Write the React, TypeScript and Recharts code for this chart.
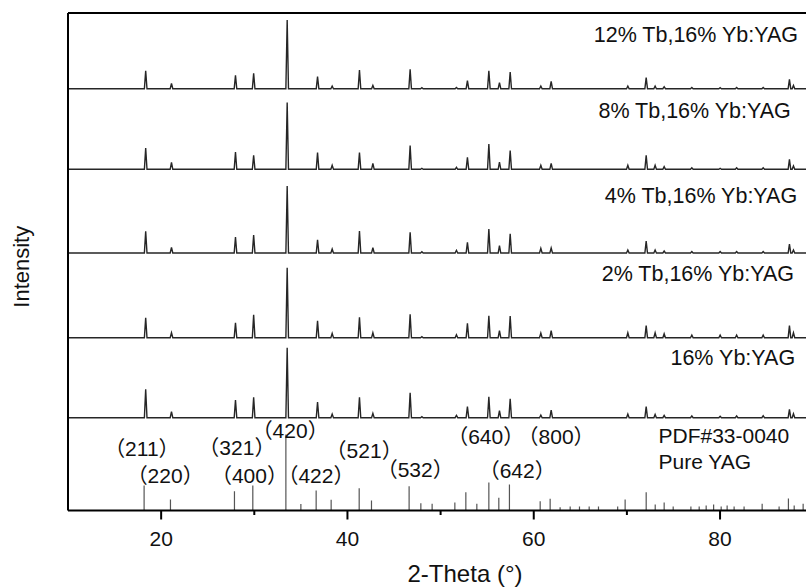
import React from 'react';
import { ComposedChart, Line, XAxis, YAxis, ReferenceDot, ReferenceLine } from 'recharts';

// 2-Theta positions (deg) of the diffraction peaks seen in the sample patterns
const PEAK_POS = [18.34, 21.11, 27.98, 29.93, 33.53, 36.79, 38.36, 41.29, 42.73, 46.73, 47.99, 51.7, 52.88, 55.18, 56.32, 57.47, 60.76, 61.87, 70.1, 72.07, 73.03, 74.0, 76.97, 80.01, 81.78, 84.63, 87.45, 87.88];

// peak heights per sample (same order as PEAK_POS)
const H_12TB = [18, 5.3, 13.3, 15.3, 68.7, 12, 2.7, 18.7, 3.3, 19.3, 1, 1.3, 8, 18, 6, 16.7, 2.7, 7.3, 2.7, 11, 2.7, 2, 1.3, 1, 1.3, 1.3, 9.3, 3.3];
const H_8TB = [21.3, 7, 17.3, 14, 66.7, 16.7, 4, 16.7, 6, 23.7, 1, 2, 12, 25.3, 7.3, 18.7, 4, 6, 4, 14, 4, 2.7, 1.5, 1, 1.5, 1.5, 10, 3.3];
const H_4TB = [21.6, 5.6, 16, 18, 67, 13.3, 4, 22, 5.3, 20.7, 1.3, 2.7, 10.7, 24, 7.3, 19.3, 4.7, 5, 3, 12, 3, 2, 1.5, 1.5, 1.5, 1.5, 9, 3];
const H_2TB = [20, 5, 15, 23, 70, 17, 4.3, 20.3, 5, 23.3, 1, 3, 14.3, 22, 7, 21.7, 4.7, 7, 5, 12, 5, 4, 2.7, 2.7, 2.7, 2.7, 12, 5];
const H_0TB = [28.3, 6, 17.7, 20.3, 70, 15.7, 3.7, 20.3, 4.3, 25, 1, 2.3, 11, 21, 7, 19, 2.7, 7.7, 3.7, 11, 3.3, 2.3, 1.7, 1.5, 1.7, 2, 8.3, 4];

// vertical offsets of each stacked pattern
const OFFSETS = [421.8, 341.2, 257.5, 172.8, 92.8];
const SAMPLE_NAMES = ['12% Tb,16% Yb:YAG', '8% Tb,16% Yb:YAG', '4% Tb,16% Yb:YAG', '2% Tb,16% Yb:YAG', '16% Yb:YAG'];
const SAMPLE_LABEL_X = [88.38, 87.6, 88.28, 87.95, 88.06];
const SAMPLE_LABEL_Y = [468.8, 392.2, 307.8, 229.8, 145.5];

// PDF#33-0040 reference sticks
const STICK_POS = [18.17, 21.0, 27.87, 29.84, 33.39, 35.0, 36.64, 38.25, 41.26, 42.58, 46.62, 47.88, 49.09, 51.53, 52.71, 53.89, 55.18, 56.25, 57.39, 60.69, 61.76, 62.83, 63.91, 64.91, 65.95, 66.95, 69.01, 69.81, 72.07, 73.04, 74.0, 74.97, 76.87, 77.76, 78.51, 79.31, 80.12, 80.76, 81.51, 82.58, 84.52, 86.34, 87.34, 87.96, 88.92];
const STICK_H = [25, 11, 19.3, 25, 76, 6.5, 20, 10.7, 22.3, 10, 24.3, 7.3, 6.7, 8, 18.3, 6.7, 28, 12.7, 26, 9.3, 11.7, 3.3, 4, 4, 4, 4, 4, 11, 18.3, 6, 8, 4, 4, 4, 5, 6, 4, 5, 4, 4, 6.7, 4, 12, 5, 6.7];

// hkl labels ((400) and (422) sit side by side in one run, as in the source figure)
const HKL_TEXT = ['（211）', '（220）', '（321）', '（400）（422）', '（420）', '（521）', '（532）', '（640）', '（800）', '（642）'];
const HKL_X = [17.93, 20.43, 28.13, 33.05, 33.85, 41.79, 47.27, 54.84, 62.4, 58.22];
const HKL_Y = [54.5, 27.8, 55.5, 27.8, 72.5, 52.5, 33.8, 66.2, 66.5, 32.8];

const REF_TEXT = ['PDF#33-0040', 'Pure YAG'];
const REF_X = [73.39, 73.39];
const REF_Y = [67.2, 41.2];

const X_TICKS = [20, 30, 40, 50, 60, 70, 80];
const MAJOR_TICKS = [20, 40, 60, 80];
const Y_TOP = 497.5;

const FONT = "'Liberation Sans', Arial, 'Noto Sans CJK SC', sans-serif";
const HW = 0.14;

function makePattern(base: number, heights: number[]) {
  const pts: { x: number; y: number }[] = [{ x: 10, y: base }];
  PEAK_POS.forEach((p, i) => {
    pts.push({ x: p - HW, y: base }, { x: p, y: base + heights[i] }, { x: p + HW, y: base });
  });
  pts.push({ x: 90, y: base });
  return pts;
}

function makeSticks() {
  const pts: { x: number; y: number }[] = [{ x: 10, y: 0 }];
  STICK_POS.forEach((p, i) => {
    pts.push({ x: p, y: 0 }, { x: p, y: STICK_H[i] }, { x: p, y: 0 });
  });
  pts.push({ x: 90, y: 0 });
  return pts;
}

const SERIES = [H_12TB, H_8TB, H_4TB, H_2TB, H_0TB].map((h, i) => makePattern(OFFSETS[i], h));
const STICKS = makeSticks();

const XTick = (props: any) => {
  const { x, y, payload } = props;
  const major = MAJOR_TICKS.includes(payload.value);
  return (
    <g>
      <line x1={x} x2={x} y1={y} y2={y + (major ? 9 : 4.5)} stroke="#000" strokeWidth={2} />
      {major && (
        <text x={x} y={y + 35} textAnchor="middle" fontSize={21} fontFamily={FONT} fill="#111">
          {payload.value}
        </text>
      )}
    </g>
  );
};

const IntensityLabel = (props: any) => {
  const vb = props.viewBox;
  const cx = vb.x + 29;
  const cy = vb.y + vb.height / 2 + 5;
  return (
    <text x={cx} y={cy} transform={`rotate(-90 ${cx} ${cy})`} textAnchor="middle" fontSize={22} fontFamily={FONT} fill="#111">
      Intensity
    </text>
  );
};

const ThetaLabel = (props: any) => {
  const vb = props.viewBox;
  return (
    <text x={vb.x + 397} y={vb.y + 71.2} textAnchor="middle" fontSize={24} fontFamily={FONT} fill="#111">
      2-Theta (°)
    </text>
  );
};

const textShape = (text: string, anchor: string, size: number) => (p: any) => (
  <text x={p.cx} y={p.cy} textAnchor={anchor} fontSize={size} fontFamily={FONT} fill="#111">
    {text}
  </text>
);

export default function App() {
  return (
    <div style={{ position: 'fixed', left: 0, top: 0, width: 806, height: 588, overflow: 'hidden', background: '#fff' }}>
      <ComposedChart width={814} height={588} margin={{ top: 13, right: 0.8, bottom: 0, left: 0 }}>
        <XAxis
          type="number"
          dataKey="x"
          domain={[10, 90]}
          allowDataOverflow
          ticks={X_TICKS}
          interval={0}
          height={77.5}
          tickSize={0}
          tickMargin={0}
          tickLine={false}
          tick={<XTick />}
          axisLine={{ stroke: '#000', strokeWidth: 2 }}
          label={{ content: ThetaLabel }}
        />
        <YAxis
          type="number"
          domain={[0, Y_TOP]}
          allowDataOverflow
          width={68}
          tick={false}
          tickLine={false}
          axisLine={{ stroke: '#000', strokeWidth: 2 }}
          label={{ content: IntensityLabel }}
        />
        <ReferenceLine y={Y_TOP} stroke="#000" strokeWidth={2.2} />
        <Line
          data={STICKS}
          dataKey="y"
          type="linear"
          stroke="#555"
          strokeWidth={1.2}
          dot={false}
          activeDot={false}
          isAnimationActive={false}
        />
        {SERIES.map((d, i) => (
          <Line
            key={i}
            data={d}
            dataKey="y"
            type="linear"
            stroke="#262626"
            strokeWidth={1.4}
            dot={false}
            activeDot={false}
            isAnimationActive={false}
          />
        ))}
        {SAMPLE_NAMES.map((n, i) => (
          <ReferenceDot key={'s' + i} x={SAMPLE_LABEL_X[i]} y={SAMPLE_LABEL_Y[i]} r={0} shape={textShape(n, 'end', 21.5)} />
        ))}
        {HKL_TEXT.map((t, i) => (
          <ReferenceDot key={'h' + i} x={HKL_X[i]} y={HKL_Y[i]} r={0} shape={textShape(t, 'middle', 21)} />
        ))}
        {REF_TEXT.map((t, i) => (
          <ReferenceDot key={'r' + i} x={REF_X[i]} y={REF_Y[i]} r={0} shape={textShape(t, 'start', 21)} />
        ))}
      </ComposedChart>
    </div>
  );
}
